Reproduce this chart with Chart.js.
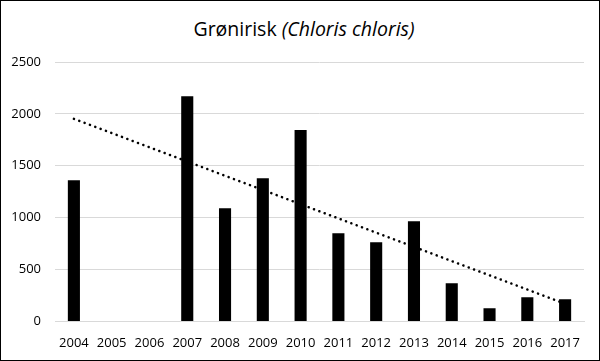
<!DOCTYPE html>
<html>
<head>
<meta charset="utf-8">
<script src="https://cdn.jsdelivr.net/npm/chart.js@4.4.1/dist/chart.umd.min.js"></script>
<style>
  html, body { margin: 0; padding: 0; background: #fff; }
  #box {
    position: relative;
    width: 600px; height: 361px;
    box-sizing: border-box;
    border: 1px solid #000;
    background: #fff;
  }
  #title {
    position: absolute; left: 8px; right: 0; top: 14px;
    text-align: center;
    font-family: "Open Sans", sans-serif;
    font-size: 19.5px; color: #000;
  }
  canvas { position: absolute; left: 0; top: 0; }
</style>
</head>
<body>
<div id="box">
  <div id="title">Grønirisk <i>(Chloris chloris)</i></div>
  <canvas id="chart" width="598" height="359"></canvas>
</div>
<script>
const years = ['2004','2005','2006','2007','2008','2009','2010','2011','2012','2013','2014','2015','2016','2017'];
const counts = [1360, null, null, 2170, 1090, 1380, 1845, 850, 763, 966, 367, 126, 232, 213];
const yTicks = [0, 500, 1000, 1500, 2000, 2500];

// linear trend line (blank years skipped, like the spreadsheet does)
function trend(values) {
  const pts = values.map((v, i) => [i, v]).filter(p => p[1] !== null);
  const n = pts.length;
  const mx = pts.reduce((s, p) => s + p[0], 0) / n;
  const my = pts.reduce((s, p) => s + p[1], 0) / n;
  let sxy = 0, sxx = 0;
  pts.forEach(p => { sxy += (p[0] - mx) * (p[1] - my); sxx += (p[0] - mx) ** 2; });
  const slope = sxy / sxx;
  return values.map((v, i) => my + slope * (i - mx));
}

const tickFont = { family: 'Open Sans', size: 13 };

new Chart(document.getElementById('chart'), {
  type: 'bar',
  data: {
    labels: years,
    datasets: [
      {
        type: 'line',
        label: 'Trend',
        data: trend(counts),
        borderColor: '#000',
        borderWidth: 2.5,
        borderDash: [0.1, 5.6],
        borderCapStyle: 'round',
        pointRadius: 0,
        fill: false,
        order: 0
      },
      {
        label: 'Grønirisk',
        data: counts,
        backgroundColor: '#000',
        categoryPercentage: 0.32,
        barPercentage: 1,
        order: 1
      }
    ]
  },
  options: {
    responsive: false,
    animation: false,
    layout: { padding: { top: 61, left: 10, right: 15, bottom: 3 } },
    plugins: {
      legend: { display: false },
      tooltip: { enabled: false }
    },
    scales: {
      x: {
        grid: { display: false },
        border: { color: '#d9d9d9' },
        ticks: { color: '#000', font: tickFont, padding: 6, maxRotation: 0 }
      },
      y: {
        min: 0,
        max: 2500,
        afterBuildTicks: s => { s.ticks = yTicks.map(v => ({ value: v })); },
        afterFit: s => { s.width = 44; },
        grid: { color: '#d9d9d9', drawTicks: false },
        border: { display: false },
        ticks: { color: '#000', font: tickFont, padding: 14, callback: v => String(v) }
      }
    }
  }
});
</script>
</body>
</html>
